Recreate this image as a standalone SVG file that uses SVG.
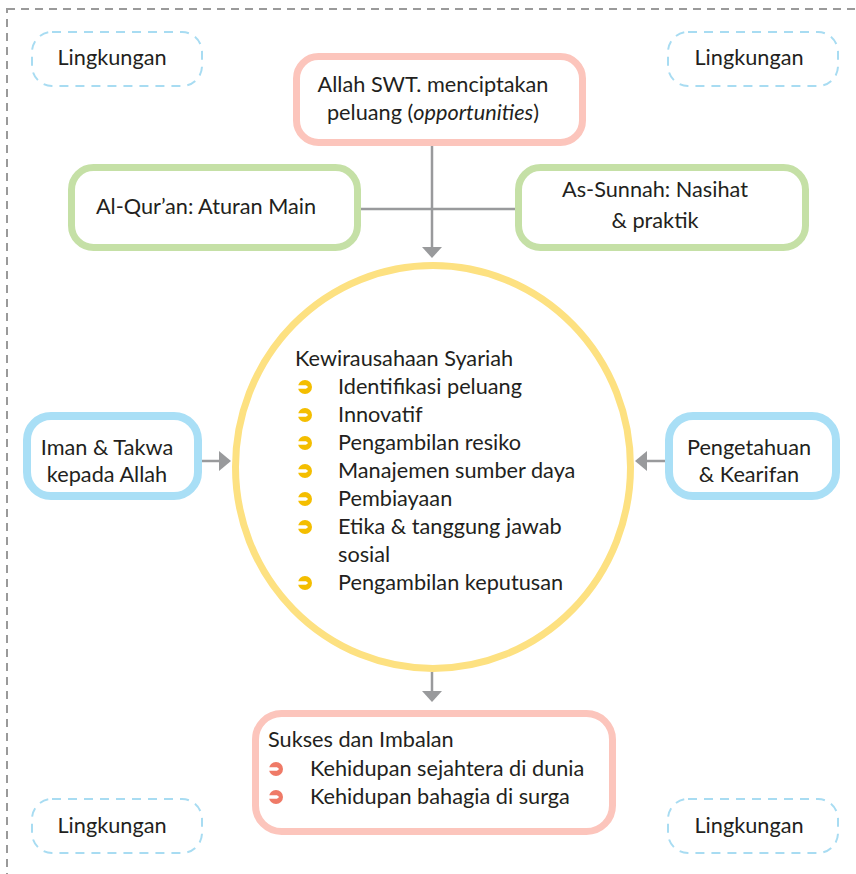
<svg xmlns="http://www.w3.org/2000/svg" width="856" height="874" viewBox="0 0 856 874">
<style>
text{font-family:Lato,"Open Sans","Liberation Sans",sans-serif;font-size:21.7px;fill:#231f20}
.c{text-anchor:middle}
.env{fill:#fff;stroke:#a8dcf2;stroke-width:2;stroke-dasharray:9 7}
.pink{fill:#fff;stroke:#fcc5bc;stroke-width:7}
.green{fill:#fff;stroke:#c5e0a6;stroke-width:7}
.blue{fill:#fff;stroke:#a9dff6;stroke-width:8}
.ln{stroke:#999a9c;stroke-width:2.5;fill:none}
.ah{fill:#999a9c}
</style>
<defs>
<g id="bul">
<circle r="7"/>
<path d="M-7.5,-1.8 H1 L3.2,0 L1,1.8 H-7.5 Z" fill="#fff"/>
</g>
</defs>
<rect x="7" y="9" width="880" height="900" fill="none" stroke="#9a9a9a" stroke-width="2" stroke-dasharray="8 6"/>
<g id="env-tl"><rect class="env" x="32" y="32" width="170" height="54" rx="20"/><text class="c" x="112" y="65">Lingkungan</text></g>
<g id="env-tr"><rect class="env" x="668" y="32" width="170" height="54" rx="20"/><text class="c" x="749" y="65">Lingkungan</text></g>
<g id="env-bl"><rect class="env" x="32" y="799" width="170" height="54" rx="20"/><text class="c" x="112" y="833">Lingkungan</text></g>
<g id="env-br"><rect class="env" x="668" y="799" width="170" height="54" rx="20"/><text class="c" x="749" y="833">Lingkungan</text></g>
<g id="connectors">
<line class="ln" x1="432" y1="146" x2="432" y2="248"/>
<polygon class="ah" points="422,247 442,247 432,258"/>
<line class="ln" x1="361" y1="209" x2="515" y2="209"/>
<line class="ln" x1="202" y1="461" x2="220" y2="461"/>
<polygon class="ah" points="219,451 219,471 231,461"/>
<line class="ln" x1="665" y1="461" x2="646" y2="461"/>
<polygon class="ah" points="647,451 647,471 635,461"/>
<line class="ln" x1="432" y1="672" x2="432" y2="692"/>
<polygon class="ah" points="422,691 442,691 432,702"/>
</g>
<g id="allah"><rect class="pink" x="296.5" y="56.5" width="286" height="86" rx="22"/>
<text class="c" x="433" y="92">Allah SWT. menciptakan</text>
<text class="c" x="433" y="120">peluang (<tspan font-style="italic">opportunities</tspan>)</text></g>
<g id="quran"><rect class="green" x="71.5" y="167.5" width="286" height="80" rx="22"/>
<text class="c" x="206" y="214">Al-Qur’an: Aturan Main</text></g>
<g id="sunnah"><rect class="green" x="518.5" y="167.5" width="287" height="80" rx="22"/>
<text class="c" x="655" y="197">As-Sunnah: Nasihat</text>
<text class="c" x="655" y="228">&amp; praktik</text></g>
<g id="iman"><rect class="blue" x="27" y="416" width="171" height="80" rx="24"/>
<text class="c" x="107" y="455">Iman &amp; Takwa</text>
<text class="c" x="107" y="482">kepada Allah</text></g>
<g id="pengetahuan"><rect class="blue" x="669" y="416" width="167" height="80" rx="24"/>
<text class="c" x="749" y="455">Pengetahuan</text>
<text class="c" x="749" y="482">&amp; Kearifan</text></g>
<g id="kewirausahaan">
<ellipse cx="433" cy="467" rx="197.5" ry="201.5" fill="#fff" stroke="#fde181" stroke-width="7"/>
<text x="295" y="366">Kewirausahaan Syariah</text>
<g fill="#f4be00">
<use href="#bul" x="305" y="387"/>
<use href="#bul" x="305" y="415"/>
<use href="#bul" x="305" y="443"/>
<use href="#bul" x="305" y="471"/>
<use href="#bul" x="305" y="499"/>
<use href="#bul" x="305" y="527"/>
<use href="#bul" x="305" y="583"/>
</g>
<text x="338" y="394">Identifikasi peluang</text>
<text x="338" y="422">Innovatif</text>
<text x="338" y="450">Pengambilan resiko</text>
<text x="338" y="478">Manajemen sumber daya</text>
<text x="338" y="506">Pembiayaan</text>
<text x="338" y="534">Etika &amp; tanggung jawab</text>
<text x="338" y="562">sosial</text>
<text x="338" y="590">Pengambilan keputusan</text>
</g>
<g id="sukses"><rect class="pink" x="255.5" y="713.5" width="357" height="118" rx="26"/>
<text x="268" y="747">Sukses dan Imbalan</text>
<g fill="#ef7a67">
<use href="#bul" x="276" y="769"/>
<use href="#bul" x="276" y="797"/>
</g>
<text x="310" y="776">Kehidupan sejahtera di dunia</text>
<text x="310" y="804">Kehidupan bahagia di surga</text></g>
</svg>
